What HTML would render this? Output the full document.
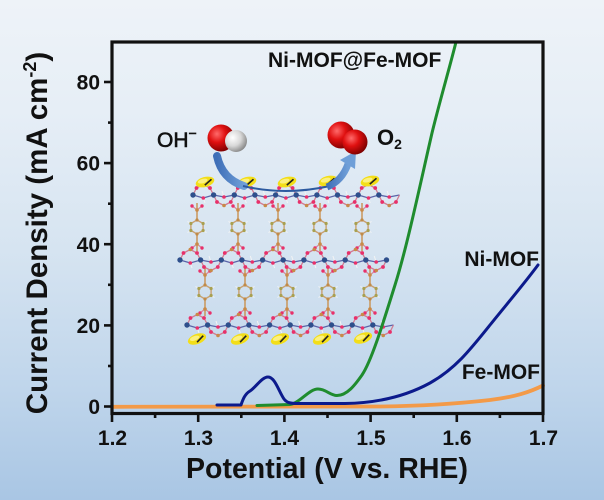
<!DOCTYPE html>
<html>
<head>
<meta charset="utf-8">
<style>
  html, body { margin: 0; padding: 0; }
  body {
    width: 604px; height: 500px; overflow: hidden; position: relative;
    background: linear-gradient(to bottom, #eef3f8 0%, #e6eef6 22%, #d6e4f1 50%, #bfd5eb 78%, #a9c6e4 100%);
    font-family: "Liberation Sans", Arial, sans-serif;
  }
  svg { position: absolute; left: 0; top: 0; }
  text { font-family: "Liberation Sans", Arial, sans-serif; fill: #111; }
</style>
</head>
<body>
<svg width="604" height="500" viewBox="0 0 604 500" xmlns="http://www.w3.org/2000/svg">
  <defs>
    <radialGradient id="redG" cx="0.35" cy="0.35" r="0.7">
      <stop offset="0" stop-color="#ff6a6a"/>
      <stop offset="0.45" stop-color="#e01010"/>
      <stop offset="1" stop-color="#7a0000"/>
    </radialGradient>
    <radialGradient id="greyG" cx="0.35" cy="0.35" r="0.75">
      <stop offset="0" stop-color="#ffffff"/>
      <stop offset="0.5" stop-color="#d8d8d8"/>
      <stop offset="1" stop-color="#7a7a7a"/>
    </radialGradient>
    <linearGradient id="arrG" x1="0" y1="0" x2="1" y2="0">
      <stop offset="0" stop-color="#3f6fb8"/>
      <stop offset="1" stop-color="#6f9fd8"/>
    </linearGradient>
    <g id="cu">
      <path d="M0,0 L10.3,3 L20.6,0 L31,2 L41.3,0" stroke="#5a64a8" stroke-width="1.3" fill="none"/>
      <path d="M0,0 L3.5,-7 L10.3,-10.5 L17,-7 L20.6,0" stroke="#d27c92" stroke-width="1.3" fill="none"/>
      <path d="M20.6,0 L24,7 L31,10.5 L37.8,7 L41.3,0" stroke="#d27c92" stroke-width="1.3" fill="none"/>
      <path d="M10.3,3 L12,8 M31,2 L29,-4" stroke="#f4f4f4" stroke-width="1"/>
      <circle cx="3.5" cy="-7" r="1.9" fill="#e8306a"/>
      <circle cx="17" cy="-7" r="1.9" fill="#e8306a"/>
      <circle cx="24" cy="7" r="1.9" fill="#e8306a"/>
      <circle cx="37.8" cy="7" r="1.9" fill="#e8306a"/>
      <circle cx="10.3" cy="3" r="1.8" fill="#e8306a"/>
      <circle cx="31" cy="2" r="1.8" fill="#e8306a"/>
      <circle cx="10.3" cy="-10.5" r="1.8" fill="#c88a48"/>
      <circle cx="31" cy="10.5" r="1.8" fill="#c88a48"/>
      <circle cx="0" cy="0" r="2.7" fill="#2e4f8c"/>
      <circle cx="20.6" cy="0" r="2.7" fill="#2e4f8c"/>
    </g>
    <g id="ru">
      <path d="M0,-24 L0,-7 M0,7 L0,24" stroke="#c9955a" stroke-width="1.5"/>
      <path d="M0,-17 L-5,-21 M0,-17 L5,-21 M0,17 L-5,21 M0,17 L5,21" stroke="#d88a9a" stroke-width="1.2"/>
      <polygon points="0,-7 6.1,-3.5 6.1,3.5 0,7 -6.1,3.5 -6.1,-3.5" fill="none" stroke="#c9a070" stroke-width="1.4"/>
      <path d="M6.1,-3.5 L9.5,-5.5 M6.1,3.5 L9.5,5.5 M-6.1,-3.5 L-9.5,-5.5 M-6.1,3.5 L-9.5,5.5" stroke="#f4f4f4" stroke-width="1"/>
      <circle cx="0" cy="-7" r="1.6" fill="#c08a48"/>
      <circle cx="6.1" cy="-3.5" r="1.6" fill="#a8a050"/>
      <circle cx="6.1" cy="3.5" r="1.6" fill="#a8a050"/>
      <circle cx="0" cy="7" r="1.6" fill="#c08a48"/>
      <circle cx="-6.1" cy="3.5" r="1.6" fill="#a8a050"/>
      <circle cx="-6.1" cy="-3.5" r="1.6" fill="#a8a050"/>
      <circle cx="0" cy="-17" r="1.8" fill="#c88a48"/>
      <circle cx="0" cy="17" r="1.8" fill="#c88a48"/>
      <circle cx="-5" cy="-21" r="1.7" fill="#e8306a"/>
      <circle cx="5" cy="-21" r="1.7" fill="#e8306a"/>
      <circle cx="-5" cy="21" r="1.7" fill="#e8306a"/>
      <circle cx="5" cy="21" r="1.7" fill="#e8306a"/>
    </g>
    <g id="yp">
      <ellipse cx="0" cy="0" rx="9.5" ry="5" fill="#f3de18"/>
      <ellipse cx="-2" cy="-1.5" rx="5" ry="2.2" fill="#fbf080"/>
      <path d="M-1,3 L7,-1" stroke="#222" stroke-width="1.6"/>
    </g>
  </defs>

  <!-- Inset: molecular framework -->
  <g>
    <use href="#ru" x="197" y="227"/>
    <use href="#ru" x="238" y="227"/>
    <use href="#ru" x="278" y="227"/>
    <use href="#ru" x="320" y="227"/>
    <use href="#ru" x="362" y="227"/>
    <use href="#ru" x="205" y="292"/>
    <use href="#ru" x="245" y="292"/>
    <use href="#ru" x="287" y="292"/>
    <use href="#ru" x="328" y="292"/>
    <use href="#ru" x="370" y="292"/>

    <use href="#cu" x="193" y="195"/>
    <use href="#cu" x="234.3" y="195"/>
    <use href="#cu" x="275.6" y="195"/>
    <use href="#cu" x="316.9" y="195"/>
    <use href="#cu" x="358.2" y="195"/>

    <use href="#cu" x="180" y="260"/>
    <use href="#cu" x="221.3" y="260"/>
    <use href="#cu" x="262.6" y="260"/>
    <use href="#cu" x="303.9" y="260"/>
    <use href="#cu" x="345.2" y="260"/>
    <circle cx="386.5" cy="260" r="2.7" fill="#2e4f8c"/>

    <use href="#cu" x="187" y="325"/>
    <use href="#cu" x="228.3" y="325"/>
    <use href="#cu" x="269.6" y="325"/>
    <use href="#cu" x="310.9" y="325"/>
    <use href="#cu" x="352.2" y="325"/>

    <use href="#yp" transform="translate(205,182) rotate(-15)"/>
    <use href="#yp" transform="translate(247,182) rotate(-15)"/>
    <use href="#yp" transform="translate(287,182) rotate(-15)"/>
    <use href="#yp" transform="translate(328,181) rotate(-15)"/>
    <use href="#yp" transform="translate(370,181) rotate(-15)"/>
    <use href="#yp" transform="translate(197,339) rotate(-20)"/>
    <use href="#yp" transform="translate(240,339) rotate(-20)"/>
    <use href="#yp" transform="translate(280,339) rotate(-20)"/>
    <use href="#yp" transform="translate(322,339) rotate(-20)"/>
    <use href="#yp" transform="translate(363,338) rotate(-20)"/>
  </g>

  <!-- Arrow -->
  <path d="M217,156 Q222,179 244,186" stroke="url(#arrG)" stroke-width="8" fill="none" stroke-linecap="round"/>
  <path d="M243,186 Q285,196 330,186" stroke="#2d5aa0" stroke-width="2" fill="none"/>
  <path d="M327,187 Q342,181 348,164" stroke="url(#arrG)" stroke-width="7" fill="none"/>
  <polygon points="356,151 340,160 355,169" fill="#6f9fd8"/>

  <!-- Molecules -->
  <circle cx="221" cy="138" r="13.5" fill="url(#redG)"/>
  <circle cx="236" cy="141" r="11" fill="url(#greyG)"/>
  <circle cx="341" cy="135" r="13.5" fill="url(#redG)"/>
  <circle cx="355" cy="142" r="12.5" fill="url(#redG)"/>

  <text x="157" y="147" font-size="21" stroke="#111" stroke-width="0.6">OH<tspan font-size="14" dy="-9">−</tspan></text>
  <text x="377" y="145" font-size="22" font-weight="bold">O<tspan font-size="14" dy="4">2</tspan></text>

  <!-- Curves -->
  <g fill="none" stroke-linejoin="round" stroke-linecap="round">
    <path d="M113,406.8 L380,406.5 C420,406 455,404 490,400 C515,397 530,392 543,385.5" stroke="#f39a48" stroke-width="3.8"/>
    <path d="M257,405.5 L290,404.5 C300,403 309,389 318,389 C326,389 330,395.5 337,395.5 C347,395.5 355,385 362,375 C372,360 384,320 395,285 C407,247 420,185 432,133 C440,100 449,70 456,42" stroke="#1f8c2e" stroke-width="3"/>
    <path d="M217,405 L241,405 C243,399 245,394 250,391 C256,387 262,377 268,377 C275,377 279,392 284,399 C287,403 291,403.5 297,403.5 L345,403.5 C380,403 408,395 430,383 C455,369 470,350 490,325 C506,305 524,284 538,265" stroke="#0c1a8c" stroke-width="3"/>
  </g>

  <!-- Frame -->
  <rect x="112" y="42" width="431" height="371.5" fill="none" stroke="#111" stroke-width="3.2"/>

  <!-- Y ticks -->
  <g stroke="#111" stroke-width="2.6">
    <line x1="104" y1="406.5" x2="112" y2="406.5"/>
    <line x1="104" y1="325.4" x2="112" y2="325.4"/>
    <line x1="104" y1="244.2" x2="112" y2="244.2"/>
    <line x1="104" y1="163.1" x2="112" y2="163.1"/>
    <line x1="104" y1="82" x2="112" y2="82"/>
    <line x1="108" y1="366" x2="112" y2="366"/>
    <line x1="108" y1="284.8" x2="112" y2="284.8"/>
    <line x1="108" y1="203.7" x2="112" y2="203.7"/>
    <line x1="108" y1="122.6" x2="112" y2="122.6"/>
    <!-- X ticks -->
    <line x1="112" y1="413" x2="112" y2="422"/>
    <line x1="198.2" y1="413" x2="198.2" y2="422"/>
    <line x1="284.4" y1="413" x2="284.4" y2="422"/>
    <line x1="370.6" y1="413" x2="370.6" y2="422"/>
    <line x1="456.8" y1="413" x2="456.8" y2="422"/>
    <line x1="543" y1="413" x2="543" y2="422"/>
    <line x1="155.1" y1="413" x2="155.1" y2="418"/>
    <line x1="241.3" y1="413" x2="241.3" y2="418"/>
    <line x1="327.5" y1="413" x2="327.5" y2="418"/>
    <line x1="413.7" y1="413" x2="413.7" y2="418"/>
    <line x1="499.9" y1="413" x2="499.9" y2="418"/>
  </g>

  <!-- Tick labels -->
  <g font-size="21" font-weight="bold" text-anchor="end">
    <text x="100" y="414">0</text>
    <text x="100" y="333">20</text>
    <text x="100" y="252">40</text>
    <text x="100" y="170.5">60</text>
    <text x="100" y="89.5">80</text>
  </g>
  <g font-size="21" font-weight="bold" text-anchor="middle">
    <text x="112.5" y="445">1.2</text>
    <text x="198.5" y="445">1.3</text>
    <text x="284.5" y="445">1.4</text>
    <text x="371" y="445">1.5</text>
    <text x="457" y="445">1.6</text>
    <text x="543.5" y="445">1.7</text>
  </g>

  <!-- Axis titles -->
  <text x="327" y="478" font-size="28.5" font-weight="bold" text-anchor="middle">Potential (V vs. RHE)</text>
  <text transform="translate(47,233) rotate(-90)" font-size="29.5" font-weight="bold" text-anchor="middle">Current Density (mA cm<tspan font-size="18" dy="-11">-2</tspan><tspan dy="11">)</tspan></text>

  <!-- Series labels -->
  <text x="268" y="67" font-size="21" font-weight="bold">Ni-MOF@Fe-MOF</text>
  <text x="539" y="266" font-size="21" font-weight="bold" text-anchor="end">Ni-MOF</text>
  <text x="540" y="379" font-size="21" font-weight="bold" text-anchor="end">Fe-MOF</text>
</svg>
</body>
</html>
